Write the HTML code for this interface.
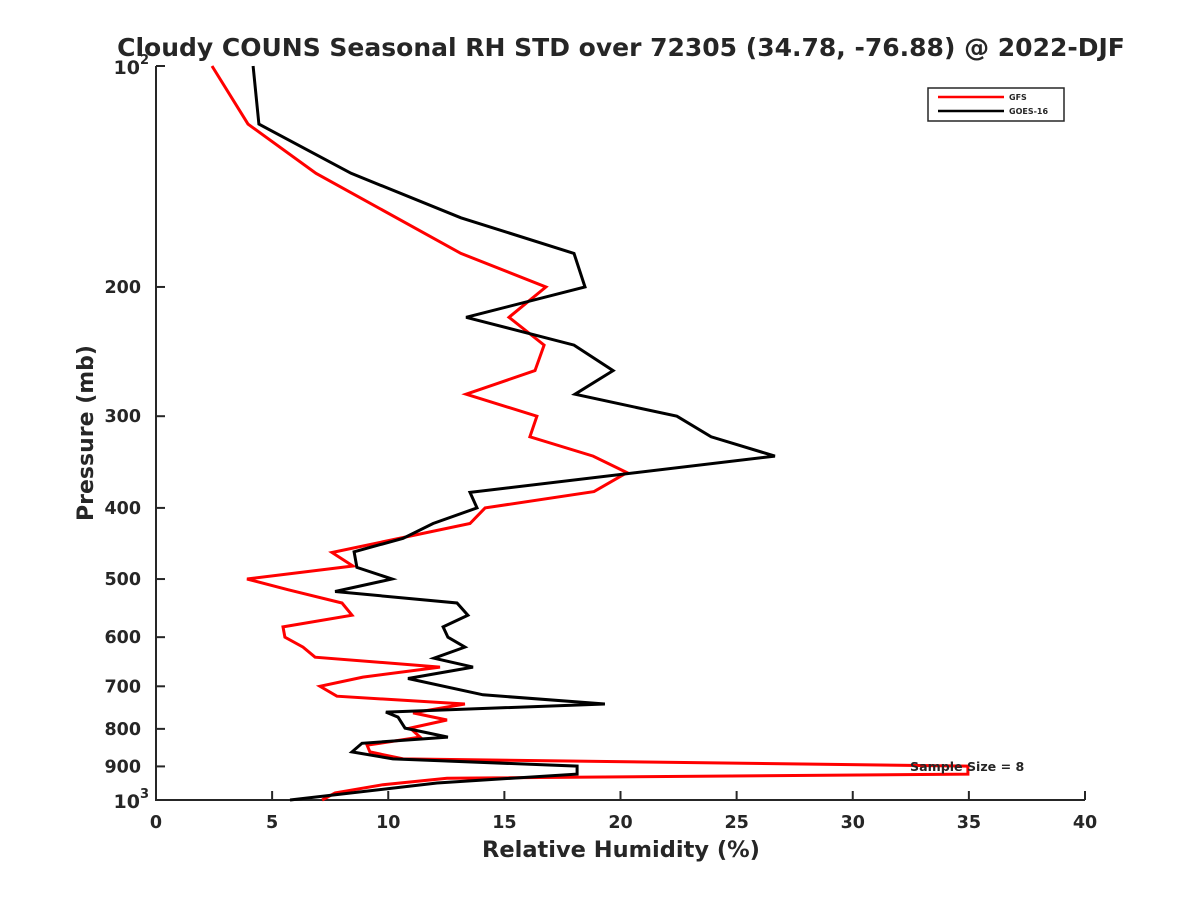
<!DOCTYPE html>
<html><head><meta charset="utf-8"><style>
body{margin:0;background:#fff;}
svg{display:block;font-family:"DejaVu Sans","Liberation Sans",sans-serif;}
text{font-weight:bold;fill:#262626;}
</style></head><body>
<svg id="chart" width="1200" height="900"></svg>
<script>
const xTicks=[0,5,10,15,20,25,30,35,40];
const yTicks=[200,300,400,500,600,700,800,900];
const gfsPressure=[100,120,140,180,200,220,240,260,280,300,320,340,358,380,400,420,460,480,500,517,539,560,581,600,619,639,659,680,700,722,740,761,778,798,821,842,860,879,899,922,934,953,978,1000];
const gfsRH=[2.41,3.96,6.89,13.13,16.79,15.20,16.71,16.32,13.35,16.40,16.10,18.82,20.28,18.86,14.17,13.52,7.58,8.48,3.92,5.68,8.01,8.44,5.47,5.55,6.33,6.85,12.23,8.91,7.06,7.79,13.30,11.07,12.53,10.94,11.37,9.09,9.21,10.64,34.96,34.96,12.53,9.77,7.71,7.15];
const goesPressure=[100,120,140,161,180,200,220,240,260,280,300,320,340,381,400,420,440,459,482,500,520,539,560,581,600,619,641,659,683,719,740,759,771,798,821,837,860,879,899,922,948,1000];
const goesRH=[4.18,4.43,8.40,13.13,18.00,18.47,13.35,18.00,19.68,18.04,22.43,23.90,26.65,13.52,13.82,11.93,10.64,8.53,8.65,10.16,7.71,12.96,13.43,12.36,12.57,13.30,11.97,13.65,10.85,14.08,19.33,9.90,10.42,10.72,12.57,8.87,8.44,10.20,18.13,18.13,12.10,5.77];

const L=156,R=1085,T=66,B=800;
const xs=v=>L+(v-0)/(40-0)*(R-L);
const ys=p=>T+(Math.log10(p)-2)*(B-T);
const NS="http://www.w3.org/2000/svg";
const svg=document.getElementById('chart');
function mk(tag,attrs,parent){const e=document.createElementNS(NS,tag);for(const k in attrs)e.setAttribute(k,attrs[k]);(parent||svg).appendChild(e);return e;}

let t=mk('text',{x:621,y:56,'text-anchor':'middle','font-size':'25',fill:'#000'});
t.textContent='Cloudy COUNS Seasonal RH STD over 72305 (34.78, -76.88) @ 2022-DJF';



let ax=mk('path',{d:`M${L},${T} L${L},${B} L${R},${B}`,stroke:'#262626','stroke-width':'2',fill:'none'});


let tt=mk('line',{x1:L,y1:T,x2:L+9,y2:T,stroke:'#262626','stroke-width':'2'});



xTicks.forEach(v=>{
  const x=xs(v);
  let l=mk('line',{x1:x,y1:B,x2:x,y2:B-9,stroke:'#262626','stroke-width':'2'});
  
  
  let tx=mk('text',{x:x,y:B+28,'text-anchor':'middle','font-size':'17.5'});
  tx.textContent=v;
  
  
});
yTicks.forEach(p=>{
  const y=ys(p);
  let l=mk('line',{x1:L,y1:y,x2:L+9,y2:y,stroke:'#262626','stroke-width':'2'});
  
  
  let tx=mk('text',{x:L-15,y:y+6,'text-anchor':'end','font-size':'17.5'});
  tx.textContent=p;
  
  
});
[[100,'2'],[1000,'3']].forEach(([p,e])=>{
  const y=ys(p);
  let tx=mk('text',{x:L-7,y:y+8,'text-anchor':'end','font-size':'19'});
  tx.innerHTML='10<tspan dy="-10" font-size="13">'+e+'</tspan>';
  
  
});

let xl=mk('text',{x:621,y:857,'text-anchor':'middle','font-size':'22.5'});
xl.textContent='Relative Humidity (%)';


let yl=mk('text',{x:0,y:0,'text-anchor':'middle','font-size':'22',transform:'translate(93,433) rotate(-90)'});
yl.textContent='Pressure (mb)';



function series(pr,vals,color,name){
  const d=pr.map((p,i)=>(i?'L':'M')+xs(vals[i]).toFixed(1)+','+ys(p).toFixed(1)).join(' ');
  let pa=mk('path',{d:d,stroke:color,'stroke-width':'3',fill:'none','stroke-linejoin':'miter'});
  
  
}
series(gfsPressure,gfsRH,'#ff0000','gfs-line');
series(goesPressure,goesRH,'#000000','goes-16-line');

let ss=mk('text',{x:910,y:771,'font-size':'12.6',fill:'#000'});
ss.textContent='Sample Size = 8';



let lg=mk('g',{});


mk('rect',{x:928,y:88,width:136,height:33,fill:'#fff',stroke:'#262626','stroke-width':'1.5'},lg);
let e1=mk('g',{},lg);


mk('line',{x1:938,y1:97,x2:1004,y2:97,stroke:'#ff0000','stroke-width':'2.5'},e1);
let g1=mk('text',{x:1009,y:100,'font-size':'8',fill:'#000'},e1);g1.textContent='GFS';
let e2=mk('g',{},lg);


mk('line',{x1:938,y1:111,x2:1004,y2:111,stroke:'#000','stroke-width':'2.5'},e2);
let g2=mk('text',{x:1009,y:114,'font-size':'8',fill:'#000'},e2);g2.textContent='GOES-16';
</script>
</body></html>
